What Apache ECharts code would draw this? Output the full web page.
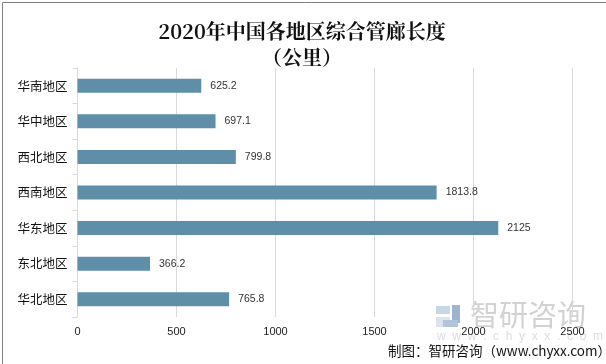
<!DOCTYPE html>
<html><head><meta charset="utf-8">
<style>html,body{margin:0;padding:0;background:#fff}#c{width:606px;height:364px}</style>
<script src="https://cdn.jsdelivr.net/npm/echarts@6/dist/echarts.min.js"></script>
</head><body><div id="c"></div>
<script>
const categories = ['华北地区','东北地区','华东地区','西南地区','西北地区','华中地区','华南地区'];
const values = [765.8,366.2,2125,1813.8,799.8,697.1,625.2];
const xTicks = [0,500,1000,1500,2000,2500];
const titleLines = '2020年中国各地区综合管廊长度\n（公里）';
const sourceText = '制图：智研咨询（www.chyxx.com）';
const watermarkName = '智研咨询';
const watermarkUrl = 'w  w  w  .  c  h  y  x  x  .  c  o  m';

const chart = echarts.init(document.getElementById('c'), null, {renderer:'canvas'});
chart.setOption({
  animation:false,
  backgroundColor:'#fff',
  title:{text:titleLines,left:297,top:13,textAlign:'center',
    textStyle:{fontFamily:'"Noto Serif CJK SC","Noto Sans CJK SC",serif',fontSize:20,fontWeight:'bold',color:'#111',lineHeight:26}},
  grid:{left:77.5,top:68,width:495,height:249,containLabel:false},
  xAxis:{type:'value',min:0,max:2500,interval:500,
    axisLine:{show:false},axisTick:{show:false},
    splitLine:{show:true,lineStyle:{color:'#d9d9d9',width:1}},
    axisLabel:{margin:9,color:'#222',fontSize:11,fontFamily:'"Liberation Sans",sans-serif',showMinLabel:true,showMaxLabel:true,
      formatter:v=>xTicks[xTicks.indexOf(v)]+''}},
  yAxis:{type:'category',data:categories,
    axisLine:{show:true,lineStyle:{color:'#d9d9d9'}},
    axisTick:{show:true,length:5,lineStyle:{color:'#d9d9d9'}},
    axisLabel:{margin:10,color:'#111',fontSize:12.5,fontFamily:'"Noto Sans CJK SC",sans-serif'}},
  series:[{type:'bar',data:values,barWidth:14,
    itemStyle:{color:'#5f8fa8'},
    label:{show:true,position:'right',distance:9,color:'#333',fontSize:10.5,fontFamily:'"Liberation Sans",sans-serif',formatter:p=>String(p.value)}}],
  graphic:[
    {type:'rect',left:0,top:0,silent:true,z:100,shape:{x:0.5,y:0.5,width:605,height:362.5},
      style:{fill:'none',stroke:'#808080',lineWidth:1}},
    {type:'group',z:-1,silent:true,children:[
      {type:'rect',shape:{x:436,y:306,width:14,height:8},style:{fill:'#c9d6e6'}},
      {type:'rect',shape:{x:452,y:305,width:8,height:18},style:{fill:'#9fb4cf'}},
      {type:'rect',shape:{x:436,y:317,width:14,height:10},style:{fill:'#dbe3ee'}},
      {type:'rect',shape:{x:443,y:320,width:15,height:7},style:{fill:'#b3c4da'}},
      {type:'text',style:{x:470,y:300,text:watermarkName,fill:'#d2d2d2',fontSize:29,fontFamily:'"Noto Sans CJK SC",sans-serif'}},
      {type:'text',style:{x:437,y:331,text:watermarkUrl,fill:'#d8dde5',fontSize:12,fontFamily:'"Liberation Sans",sans-serif'}}
    ]},
    {type:'text',z:60,silent:true,style:{x:388,y:344,text:sourceText,fill:'#111',fontSize:13.5,fontFamily:'"Noto Sans CJK SC",sans-serif'}}
  ]
});
</script></body></html>
